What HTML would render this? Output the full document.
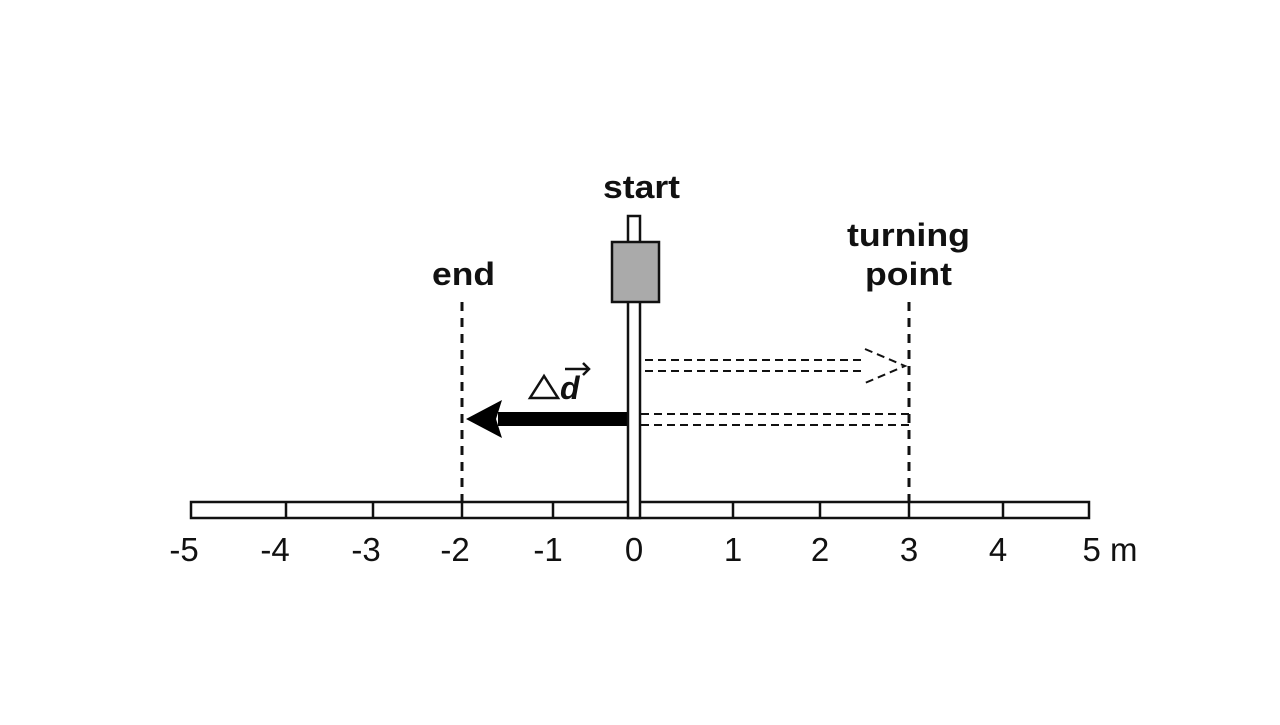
<!DOCTYPE html>
<html><head><style>body{margin:0;background:#fff}</style></head><body>
<svg width="1280" height="720" viewBox="0 0 1280 720" xmlns="http://www.w3.org/2000/svg" font-family="Liberation Sans, Arial, sans-serif">
<rect x="0" y="0" width="1280" height="720" fill="#fff"/>
<rect x="191" y="502" width="898" height="16" fill="#fff" stroke="#111" stroke-width="2.5"/>
<g stroke="#111" stroke-width="2.5">
<line x1="286" y1="502" x2="286" y2="518"/><line x1="373" y1="502" x2="373" y2="518"/>
<line x1="462" y1="502" x2="462" y2="518"/><line x1="553" y1="502" x2="553" y2="518"/>
<line x1="733" y1="502" x2="733" y2="518"/><line x1="820" y1="502" x2="820" y2="518"/>
<line x1="909" y1="502" x2="909" y2="518"/><line x1="1003" y1="502" x2="1003" y2="518"/>
</g>
<g stroke="#111" stroke-width="3" stroke-dasharray="9,7">
<line x1="462" y1="302" x2="462" y2="502"/>
<line x1="909" y1="302" x2="909" y2="502"/>
</g>
<g stroke="#111" stroke-width="2" stroke-dasharray="8,5" fill="none">
<line x1="645" y1="360" x2="866" y2="360"/>
<line x1="645" y1="371" x2="866" y2="371"/>
<polyline points="865,349 905,366 865,383"/>
<line x1="641" y1="414" x2="909" y2="414"/>
<line x1="641" y1="425" x2="909" y2="425"/>
</g>
<rect x="498" y="412" width="131" height="14" fill="#000"/>
<polygon points="466,419 502,400 496,419 502,438" fill="#000"/>
<rect x="628" y="216" width="12" height="302" fill="#fff" stroke="#111" stroke-width="2.5"/>
<rect x="612" y="242" width="47" height="60" fill="#aaa" stroke="#111" stroke-width="2.5"/>
<g font-weight="bold" font-size="32" fill="#111">
<text x="603" y="198" textLength="77" lengthAdjust="spacingAndGlyphs">start</text>
<text x="432" y="285" textLength="63" lengthAdjust="spacingAndGlyphs">end</text>
<text x="847" y="246" textLength="123" lengthAdjust="spacingAndGlyphs">turning</text>
<text x="865" y="285" textLength="87" lengthAdjust="spacingAndGlyphs">point</text>
</g>
<polygon points="544,376 530,398 558,398" fill="none" stroke="#111" stroke-width="2.5"/>
<text x="560" y="399" font-size="32" font-weight="bold" font-style="italic" fill="#111">d</text>
<g stroke="#111" stroke-width="2.5" fill="none"><line x1="565" y1="369" x2="589" y2="369"/><polyline points="583,363 589,369 583,375"/></g>
<g font-size="33" fill="#111" text-anchor="middle">
<text x="184" y="561">-5</text><text x="275" y="561">-4</text><text x="366" y="561">-3</text>
<text x="455" y="561">-2</text><text x="548" y="561">-1</text><text x="634" y="561">0</text>
<text x="733" y="561">1</text><text x="820" y="561">2</text><text x="909" y="561">3</text>
<text x="998" y="561">4</text><text x="1110" y="561">5 m</text>
</g>
</svg>
</body></html>
